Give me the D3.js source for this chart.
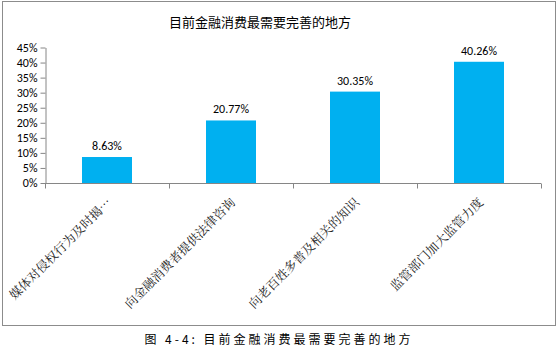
<!DOCTYPE html>
<html>
<head>
<meta charset="utf-8">
<script src="https://cdn.jsdelivr.net/npm/d3@7"></script>
<style>
  body { margin: 0; background: #fff; }
  svg { display: block; }
</style>
</head>
<body>
<div id="chart"></div>
<script>
const categories = ["媒体对侵权行为及时揭…", "向金融消费者提供法律咨询", "向老百姓多普及相关的知识", "监管部门加大监管力度"];
const values = [8.63, 20.77, 30.35, 40.26];
const yTicks = [0, 5, 10, 15, 20, 25, 30, 35, 40, 45];
const title = "目前金融消费最需要完善的地方";
const caption = "图 4-4: 目前金融消费最需要完善的地方";

const width = 559;
const height = 352;
const margin = { left: 45, right: 18, top: 47.5, bottom: 169 };

const svg = d3.select("#chart").append("svg")
  .attr("width", width)
  .attr("height", height);

// outer frame
svg.append("rect")
  .attr("x", 2.5).attr("y", 1.5)
  .attr("width", 553).attr("height", 324)
  .attr("fill", "#fff")
  .attr("stroke", "#8c8c8c")
  .attr("stroke-width", 1);

svg.append("text")
  .attr("x", 260).attr("y", 27)
  .attr("text-anchor", "middle")
  .style("font-family", "'Noto Sans CJK SC', sans-serif")
  .style("font-size", "13px")
  .attr("fill", "#000")
  .text(title);

const x = d3.scaleBand()
  .domain(categories)
  .range([margin.left, width - margin.right])
  .paddingInner(0.6)
  .paddingOuter(0.3);

const y = d3.scaleLinear()
  .domain([0, 45])
  .range([height - margin.bottom, margin.top]);

const bw = x.step();

// y axis
const yAxis = svg.append("g")
  .attr("transform", `translate(${margin.left + 0.5},0)`)
  .call(d3.axisLeft(y).tickValues(yTicks).tickFormat(d => d + "%").tickSize(5).tickSizeOuter(0));
yAxis.select(".domain").attr("stroke", "#868686");
yAxis.selectAll(".tick line").attr("stroke", "#868686");
yAxis.selectAll(".tick text")
  .attr("x", -8)
  .style("font-family", "Carlito, 'Liberation Sans', sans-serif")
  .style("font-size", "12px")
  .attr("fill", "#000");

// bars
svg.append("g")
  .selectAll("rect")
  .data(values)
  .join("rect")
  .attr("x", (d, i) => x(categories[i]) + x.bandwidth() / 2 - 25)
  .attr("width", 50)
  .attr("y", d => y(d))
  .attr("height", d => y(0) - y(d))
  .attr("fill", "#00b0f0");

// x axis
const x0 = y(0) + 0.5;
svg.append("line")
  .attr("x1", margin.left).attr("x2", margin.left + bw * categories.length)
  .attr("y1", x0).attr("y2", x0)
  .attr("stroke", "#868686");
svg.append("g")
  .selectAll("line")
  .data(d3.range(categories.length + 1))
  .join("line")
  .attr("x1", i => Math.round(margin.left + i * bw) + 0.5)
  .attr("x2", i => Math.round(margin.left + i * bw) + 0.5)
  .attr("y1", x0).attr("y2", x0 + 5)
  .attr("stroke", "#868686");

// value labels
svg.append("g")
  .selectAll("text")
  .data(values)
  .join("text")
  .attr("x", (d, i) => x(categories[i]) + x.bandwidth() / 2)
  .attr("y", d => y(d) - 7)
  .attr("text-anchor", "middle")
  .style("font-family", "Carlito, 'Liberation Sans', sans-serif")
  .style("font-size", "12px")
  .attr("fill", "#000")
  .text(d => d.toFixed(2) + "%");

// category labels
svg.append("g")
  .selectAll("text")
  .data(categories)
  .join("text")
  .attr("transform", d => `translate(${x(d) + x.bandwidth() / 2 + 2},${y(0) + 17}) rotate(-45)`)
  .attr("text-anchor", "end")
  .attr("dy", "0.35em")
  .style("font-family", "'Noto Serif CJK SC', 'Noto Sans CJK SC', serif")
  .style("font-size", "12.5px")
  .attr("fill", "#222")
  .text(d => d);

svg.append("text")
  .attr("x", 279).attr("y", 344)
  .attr("text-anchor", "middle")
  .style("font-family", "'Noto Sans CJK SC', sans-serif")
  .style("font-size", "12px")
  .style("letter-spacing", "3px")
  .attr("fill", "#000")
  .text(caption);
</script>
</body>
</html>
